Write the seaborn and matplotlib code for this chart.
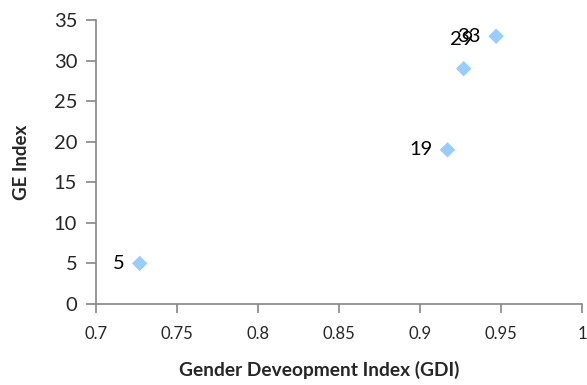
import matplotlib
matplotlib.use("Agg")
import matplotlib.pyplot as plt
import seaborn as sns
import pandas as pd

# GDI vs GE index values
gdi = [0.727, 0.917, 0.927, 0.947]
ge_index = [5, 19, 29, 33]
point_labels = ["5", "19", "29", "33"]

df = pd.DataFrame({"GDI": gdi, "GE": ge_index, "label": point_labels})

sns.set_style("white")
plt.rcParams["font.family"] = ["Lato", "DejaVu Sans"]

fig = plt.figure(figsize=(5.87, 3.85), dpi=100)
ax = fig.add_axes([0.1635, 0.2104, 0.8279, 0.7376])

sns.scatterplot(data=df, x="GDI", y="GE", marker="D", s=62, color="#99CCFF",
                edgecolor="none", ax=ax, zorder=3, clip_on=False)

# value labels: mostly to the left of each point; "29" sits above its point
for _, r in df.iterrows():
    if r["label"] == "29":
        ax.annotate(r["label"], (r["GDI"], r["GE"]), xytext=(-1.5, 21),
                    textcoords="offset points", ha="center", va="center",
                    fontsize=14.5, color="black")
    else:
        ax.annotate(r["label"], (r["GDI"], r["GE"]), xytext=(-11, 0),
                    textcoords="offset points", ha="right", va="center",
                    fontsize=14.5, color="black")

ax.set_xlim(0.7, 1.0)
ax.set_ylim(0, 35)
ax.set_xticks([0.7, 0.75, 0.8, 0.85, 0.9, 0.95, 1.0])
ax.set_xticklabels(["0.7", "0.75", "0.8", "0.85", "0.9", "0.95", "1"])
ax.set_yticks(range(0, 36, 5))

ax.set_xlabel("Gender Deveopment Index (GDI)", fontsize=13.8, fontweight="bold", labelpad=14)
ax.xaxis.label.set_x(0.459)
ax.set_ylabel("GE Index", fontsize=13.5, fontweight="bold", labelpad=17)

for side in ["top", "right"]:
    ax.spines[side].set_visible(False)
for side in ["left", "bottom"]:
    ax.spines[side].set_color("#868686")
    ax.spines[side].set_linewidth(1.2)

ax.tick_params(axis="x", which="major", direction="out", length=6.5, width=1.2,
               color="#868686", labelsize=12, bottom=True, pad=9)
ax.tick_params(axis="y", which="major", direction="out", length=7, width=1.2,
               color="#868686", labelsize=14.5, left=True, pad=6.5)

fig.savefig("out.png", dpi=100)
